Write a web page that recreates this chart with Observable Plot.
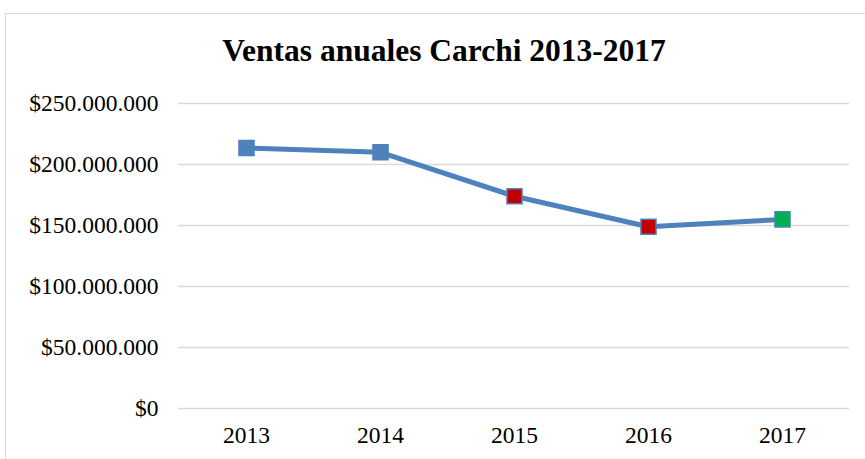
<!DOCTYPE html>
<html>
<head>
<meta charset="utf-8">
<script src="https://cdn.jsdelivr.net/npm/d3@7"></script>
<script src="https://cdn.jsdelivr.net/npm/@observablehq/plot@0.6"></script>
<style>
  html, body { margin: 0; padding: 0; background: #fff; overflow: hidden; }
  #wrap { position: relative; width: 865px; height: 459px; overflow: hidden; }
  #frame { position: absolute; left: 5px; top: 13px; width: 900px; height: 500px; border: 1px solid #d9d9d9; box-sizing: border-box; }
  #title { position: absolute; left: 0; top: 31px; width: 888px; text-align: center; font-family: "Liberation Serif", "Times New Roman", serif; font-weight: bold; font-size: 31.5px; color: #000; line-height: 40px; }
  #chart { position: absolute; left: 0; top: 80px; }
</style>
</head>
<body>
<div id="wrap">
  <div id="frame"></div>
  <div id="title">Ventas anuales Carchi 2013-2017</div>
  <div id="chart"></div>
</div>
<script>
const years = ["2013", "2014", "2015", "2016", "2017"];
const sales = [213500000, 210000000, 174000000, 149000000, 155000000];
const markerColors = ["#4f81bd", "#4f81bd", "#c00000", "#c00000", "#00b050"];
const yTicks = [0, 50000000, 100000000, 150000000, 200000000, 250000000];

const data = years.map((y, i) => ({year: y, value: sales[i], color: markerColors[i]}));
const loc = d3.formatLocale({decimal: ",", thousands: ".", grouping: [3], currency: ["$", ""]});
const fmt = loc.format("$,.0f");

const chart = Plot.plot({
  width: 865,
  height: 379,
  marginTop: 23,
  marginBottom: 51,
  marginLeft: 178,
  marginRight: 16,
  style: {fontFamily: "'Liberation Serif', 'Times New Roman', serif", fontSize: "23.5px", color: "#000", background: "transparent"},
  x: {type: "point", domain: years, padding: 0.5, label: null, tickSize: 0, tickPadding: 18},
  y: {domain: [0, 250000000], ticks: yTicks, tickFormat: fmt, label: null, tickSize: 0, tickPadding: 20},
  marks: [
    Plot.ruleY(yTicks, {stroke: "#d9d9d9", strokeWidth: 1.5}),
    Plot.line(data, {x: "year", y: "value", stroke: "#4f81bd", strokeWidth: 5, strokeLinejoin: "round", strokeLinecap: "round"}),
    Plot.dot(data, {x: "year", y: "value", symbol: "square", r: 8.5, fill: "color", stroke: "#4f81bd", strokeWidth: 1.5})
  ]
});
document.getElementById("chart").appendChild(chart);
</script>
</body>
</html>
